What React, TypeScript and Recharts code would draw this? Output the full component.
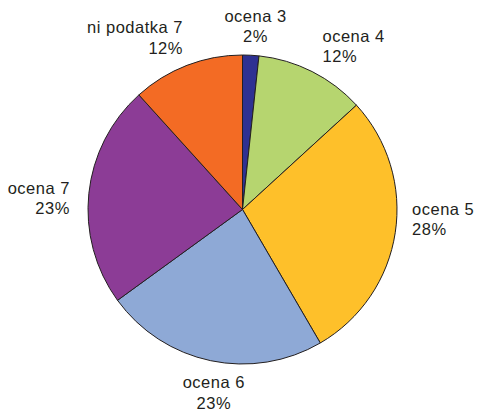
import { PieChart, Pie, Cell } from "recharts";

const CATEGORIES = ["ocena 3", "ocena 4", "ocena 5", "ocena 6", "ocena 7", "ni podatka 7"];
const VALUES = [1.7, 11.5, 28.4, 23.4, 23.3, 11.7];

const COLORS = [
  "#2e3192", // temno modra
  "#b6d56f", // zelena
  "#fec02a", // rumena
  "#8ea9d6", // svetlo modra
  "#8c3c96", // vijolicna
  "#f36b24", // oranzna
];

// small per-label nudges on top of the radial placement
const LABEL_NUDGE = [
  [4, 6],
  [4, 6],
  [3, -18],
  [6, -1],
  [-5, 9],
  [1, 5],
];

const data = CATEGORIES.map((name, i) => ({ name, value: VALUES[i] }));

const RAD = Math.PI / 180;
const LINE_H = 20.5;

function renderLabel(props: any) {
  const { cx, cy, midAngle, outerRadius, index, value, name } = props;
  const r = outerRadius + 14;
  const s = Math.cos(midAngle * RAD); // horizontal part
  const c = Math.sin(midAngle * RAD); // vertical (up) part
  const anchor = s > 0.3 ? "start" : s < -0.3 ? "end" : "middle";
  const [dx, dy] = LABEL_NUDGE[index] || [0, 0];
  const x = cx + r * s + dx;
  const yc = cy - r * c - c * LINE_H + dy;
  return (
    <text
      x={x}
      y={yc - 5}
      textAnchor={anchor}
      fill="#231f20"
      fontSize={16.5}
      letterSpacing={0.5}
      fontFamily="Liberation Sans, Arial, sans-serif"
    >
      <tspan x={x} y={yc - 5}>{name}</tspan>
      <tspan x={x} y={yc - 5 + LINE_H}>{Math.round(value)}%</tspan>
    </text>
  );
}

export default function App() {
  return (
    <div style={{ position: "absolute", left: 0, top: 0, background: "#fff" }}>
      <PieChart width={477} height={414} margin={{ top: 0, right: 0, bottom: 0, left: 0 }}>
        <Pie
          data={data}
          dataKey="value"
          nameKey="name"
          cx={242.5}
          cy={209.5}
          outerRadius={154.5}
          startAngle={90}
          endAngle={-270}
          stroke="#231f20"
          strokeWidth={1}
          label={renderLabel}
          labelLine={false}
          isAnimationActive={false}
        >
          {data.map((d, i) => (
            <Cell key={d.name} fill={COLORS[i]} />
          ))}
        </Pie>
      </PieChart>
    </div>
  );
}
